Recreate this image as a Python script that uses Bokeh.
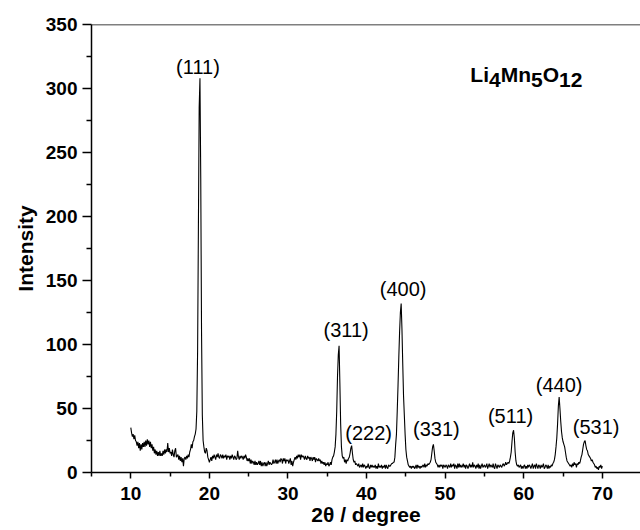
import numpy as np
from bokeh.plotting import figure
from bokeh.models import Range1d, FixedTicker, Span, Label
from bokeh.embed import file_html
from bokeh.resources import INLINE

# XRD scan of Li4Mn5O12: 2-theta from 10 to 70 degrees in 0.1 degree steps
scan_start = 10.0
scan_step = 0.1
intensity = [
    35, 31, 28, 30, 26, 29, 25, 24, 21, 24,   # 10
    19, 23, 17, 22, 18, 23, 20, 24, 20, 25,   # 11
    21, 26, 22, 25, 20, 24, 19, 22, 17, 20,   # 12
    15, 18, 14, 17, 13, 16, 13, 17, 13, 15,   # 13
    13, 17, 14, 18, 15, 18, 16, 23, 16, 19,   # 14
    15, 16, 13, 18, 14, 12, 17, 19, 12, 13,   # 15
    14, 10, 13, 9, 12, 8, 11, 5, 11, 12,      # 16
    10, 13, 11, 14, 12, 16, 18, 22, 19, 24,   # 17
    25, 28, 30, 34, 48, 95, 190, 285, 308, 230,  # 18
    110, 45, 25, 20, 16, 15, 19, 17, 12, 10,  # 19
    8, 10, 12, 9, 13, 11, 14, 12, 10, 14,     # 20
    12, 15, 12, 11, 14, 13, 11, 14, 11, 13,   # 21
    12, 14, 10, 13, 12, 13, 10, 13, 11, 14,   # 22
    12, 10, 13, 12, 10, 11, 17, 12, 10, 13,   # 23
    11, 13, 12, 10, 13, 11, 14, 12, 9, 11,    # 24
    9, 11, 7, 10, 7, 9, 8, 6, 9, 6,           # 25
    8, 6, 7, 9, 6, 9, 5, 8, 5, 7,             # 26
    8, 5, 8, 5, 7, 9, 6, 8, 7, 6,             # 27
    7, 10, 7, 8, 10, 7, 10, 7, 9, 10,         # 28
    8, 11, 10, 7, 11, 9, 11, 7, 10, 9,        # 29
    10, 7, 9, 11, 6, 9, 5, 8, 10, 12,         # 30
    10, 13, 11, 14, 12, 14, 10, 14, 12, 13,   # 31
    12, 10, 13, 11, 10, 13, 11, 12, 9, 12,    # 32
    11, 9, 12, 10, 12, 8, 11, 10, 9, 11,      # 33
    9, 10, 7, 9, 7, 8, 6, 8, 5, 7,            # 34
    6, 8, 5, 6, 8, 6, 10, 12, 13, 16,         # 35
    20, 30, 48, 75, 92, 99, 70, 38, 20, 13,   # 36
    11, 12, 8, 10, 7, 10, 9, 11, 12, 15,      # 37
    19, 21, 15, 10, 8, 9, 6, 7, 6, 5,         # 38
    7, 4, 5, 6, 4, 7, 4, 6, 5, 3,             # 39
    5, 4, 7, 4, 3, 6, 4, 6, 4, 5,             # 40
    4, 6, 3, 5, 3, 7, 4, 5, 4, 6,             # 41
    3, 5, 4, 6, 3, 6, 4, 3, 6, 5,             # 42
    5, 6, 7, 7, 8, 8, 12, 22, 30, 48,         # 43
    68, 90, 110, 125, 132, 112, 85, 60, 45, 30,  # 44
    18, 12, 9, 6, 5, 4, 5, 3, 5, 4,           # 45
    5, 3, 4, 6, 3, 6, 4, 5, 3, 5,             # 46
    4, 5, 6, 4, 7, 4, 6, 5, 7, 6,             # 47
    7, 8, 10, 15, 20, 22, 17, 11, 8, 7,       # 48
    6, 4, 6, 4, 6, 5, 6, 3, 6, 5,             # 49
    4, 6, 5, 3, 6, 5, 4, 7, 4, 6,             # 50
    5, 7, 3, 6, 5, 3, 7, 4, 7, 4,             # 51
    6, 4, 5, 7, 4, 6, 3, 6, 5, 3,             # 52
    5, 7, 4, 6, 4, 8, 4, 6, 5, 3,             # 53
    6, 4, 7, 3, 6, 3, 5, 7, 4, 5,             # 54
    6, 4, 5, 7, 3, 5, 7, 4, 6, 5,             # 55
    4, 7, 4, 3, 7, 5, 3, 6, 5, 4,             # 56
    6, 5, 4, 6, 7, 5, 6, 8, 6, 7,             # 57
    8, 7, 9, 12, 16, 24, 31, 33, 27, 16,      # 58
    9, 6, 5, 6, 4, 5, 6, 3, 5, 3,             # 59
    5, 6, 3, 5, 3, 6, 4, 6, 5, 3,             # 60
    5, 7, 3, 5, 6, 3, 7, 5, 3, 6,             # 61
    5, 3, 6, 4, 5, 7, 3, 4, 6, 5,             # 62
    3, 6, 3, 5, 4, 6, 5, 7, 8, 10,            # 63
    14, 20, 27, 38, 52, 59, 50, 40, 32, 27,   # 64
    24, 22, 20, 16, 12, 9, 8, 7, 6, 5,        # 65
    6, 4, 7, 5, 8, 6, 7, 4, 7, 6,             # 66
    8, 7, 9, 12, 14, 18, 22, 24, 25, 21,      # 67
    18, 17, 14, 13, 12, 11, 9, 10, 8, 7,      # 68
    6, 4, 5, 3, 4, 2, 5, 4, 6, 3,             # 69
    5,                                        # 70
]
two_theta = scan_start + scan_step * np.arange(len(intensity))

# indexed reflections (spinel)
peak_hkl = ["(111)", "(311)", "(222)", "(400)", "(331)", "(511)", "(440)", "(531)"]
peak_pos = [18.8, 36.5, 38.1, 44.4, 48.5, 58.7, 64.5, 67.8]

x_major = [10, 20, 30, 40, 50, 60, 70]
x_minor = [5, 15, 25, 35, 45, 55, 65]
y_major = [0, 50, 100, 150, 200, 250, 300, 350]
y_minor = [25, 75, 125, 175, 225, 275, 325]

# pixel nudges for the reflection labels (dx right, dy up)
label_dx = [-2, 7, 17, 2, 3, -3, 0, 11]
label_dy = [11, 16, 13, 15, 15, 14, 12, 14]

FONT = "Liberation Sans"

p = figure(width=640, height=530,
           x_range=Range1d(5, 74.85), y_range=Range1d(0, 350),
           output_backend="svg", toolbar_location=None,
           min_border_left=91, min_border_right=0,
           min_border_top=24, min_border_bottom=58)
p.outline_line_color = None
p.xgrid.visible = False
p.ygrid.visible = False
p.background_fill_color = "white"
p.border_fill_color = "white"

p.line(two_theta, intensity, line_color="black", line_width=1.1)

# top frame edge
p.add_layout(Span(location=350, dimension="width",
                  line_color="black", line_width=1.5))

for ax in (p.xaxis[0], p.yaxis[0]):
    ax.axis_line_color = "black"
    ax.axis_line_width = 1.5
    ax.major_tick_line_color = "black"
    ax.major_tick_line_width = 1.5
    ax.minor_tick_line_color = "black"
    ax.minor_tick_line_width = 1.5
    ax.major_tick_in = 0
    ax.minor_tick_in = 0
    ax.major_label_text_font = FONT
    ax.major_label_text_font_style = "bold"
    ax.major_label_text_font_size = "19px"
    ax.major_label_text_color = "black"
    ax.axis_label_text_font = FONT
    ax.axis_label_text_font_style = "bold"
    ax.axis_label_text_font_size = "21px"
    ax.axis_label_text_color = "black"

xa = p.xaxis[0]
xa.ticker = FixedTicker(ticks=x_major, minor_ticks=x_minor)
xa.major_tick_out = 6
xa.minor_tick_out = 4
xa.major_label_standoff = 8
xa.axis_label = "2θ / degree"
xa.axis_label_standoff = 0

ya = p.yaxis[0]
ya.ticker = FixedTicker(ticks=y_major, minor_ticks=y_minor)
ya.major_tick_out = 9
ya.minor_tick_out = 5
ya.major_label_standoff = 5
ya.axis_label = "Intensity"
ya.axis_label_standoff = 6

# reflection labels above their peaks
for hkl, pos, dx, dy in zip(peak_hkl, peak_pos, label_dx, label_dy):
    i = int(round((pos - scan_start) / scan_step))
    p.add_layout(Label(x=pos, y=intensity[i], x_offset=dx, y_offset=dy,
                       text=hkl, text_align="center", text_baseline="middle",
                       text_font=FONT, text_font_size="20px",
                       text_color="black"))

# compound name with lowered subscripts
formula_parts = [("Li", False, 0), ("4", True, 18.7), ("Mn", False, 30.4),
                 ("5", True, 60.7), ("O", False, 72.4), ("12", True, 88.7)]
for txt, sub, dx in formula_parts:
    p.add_layout(Label(x=53.2, y=311, x_offset=dx, y_offset=-6 if sub else 0,
                       text=txt, text_align="left", text_baseline="alphabetic",
                       text_font=FONT, text_font_style="bold",
                       text_font_size="21px", text_color="black"))

open("out.html", "w").write(file_html(p, INLINE))
